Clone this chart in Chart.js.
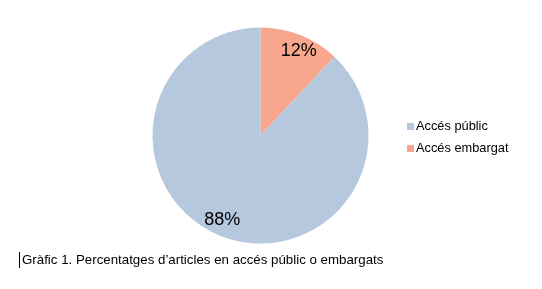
<!DOCTYPE html>
<html>
<head>
<meta charset="utf-8">
<script src="https://cdn.jsdelivr.net/npm/chart.js@4/dist/chart.umd.min.js"></script>
<style>
  html, body { margin: 0; padding: 0; background: #ffffff; }
  #wrap { position: relative; width: 542px; height: 289px; }
  #c { position: absolute; left: 0; top: 0; }
  #caption {
    position: absolute; left: 19px; top: 252px;
    font-family: "Liberation Sans", Arial, sans-serif; font-size: 13.3px; color: #000;
    border-left: 1px solid #000; padding-left: 2px; line-height: 16px; white-space: nowrap;
  }
</style>
</head>
<body>
<div id="wrap">
  <canvas id="c" width="542" height="289"></canvas>
  <div id="caption"></div>
</div>
<script>
const categories = ["Accés embargat", "Accés públic"];
const values = [12, 88];
const valueLabels = ["12%", "88%"];
const colors = ["#F9A68E", "#B6C8DE"];
const legendOrder = ["Accés públic", "Accés embargat"];
const captionText = "Gràfic 1. Percentatges d\u2019articles en accés públic o embargats";

document.getElementById('caption').textContent = captionText;

const overlay = {
  id: 'overlay',
  afterDatasetsDraw(chart) {
    const ctx = chart.ctx;
    const meta = chart.getDatasetMeta(0);
    ctx.save();
    ctx.font = '18px "Liberation Sans", Arial, sans-serif';
    ctx.fillStyle = '#000';
    ctx.textAlign = 'center';
    ctx.textBaseline = 'middle';
    meta.data.forEach((arc, i) => {
      const p = arc.getProps(['x','y','startAngle','endAngle','outerRadius'], true);
      const mid = (p.startAngle + p.endAngle) / 2 + 0.05;
      const r = p.outerRadius * 0.855;
      ctx.fillText(valueLabels[i], p.x + Math.cos(mid) * r, p.y + Math.sin(mid) * r);
    });
    // legend
    ctx.font = '12.8px "Liberation Sans", Arial, sans-serif';
    ctx.textAlign = 'left';
    legendOrder.forEach((lab, k) => {
      const idx = chart.data.labels.indexOf(lab);
      const y = 126.5 + k * 22;
      ctx.fillStyle = colors[idx];
      ctx.fillRect(407, y - 3.5, 7, 7);
      ctx.fillStyle = '#000';
      ctx.fillText(lab, 416, y);
    });
    ctx.restore();
  }
};

new Chart(document.getElementById('c'), {
  type: 'pie',
  data: {
    labels: categories,
    datasets: [{ data: values, backgroundColor: colors, borderWidth: 0 }]
  },
  options: {
    responsive: false,
    animation: false,
    layout: { padding: { left: 152.5, right: 173.5, top: 27.5, bottom: 45.5 } },
    plugins: { legend: { display: false }, tooltip: { enabled: false } }
  },
  plugins: [overlay]
});
</script>
</body>
</html>
